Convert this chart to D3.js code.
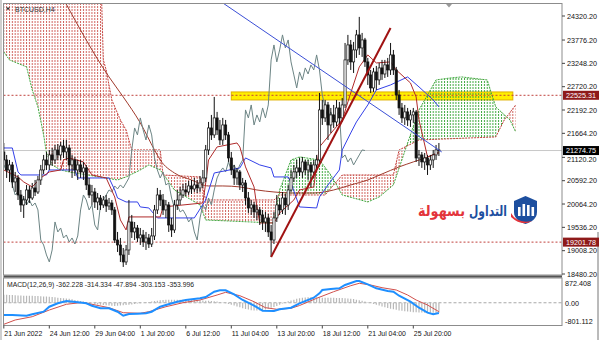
<!DOCTYPE html>
<html>
<head>
<meta charset="utf-8">
<script src="https://cdn.jsdelivr.net/npm/d3@7"></script>
<style>
  body { margin: 0; background: #fff; }
  svg { display: block; font-family: "Liberation Sans", Arial, sans-serif; }
</style>
</head>
<body>
<svg id="chart" width="600" height="340"></svg>
<script>
// ---- BTCUSD H4 candles ----
var opens = [21243,21062,20835,20949,20564,20654,20269,20043,20156,20382,20201,20428,20337,20609,20835,21062,20949,21175,21062,21288,
  21175,21378,21243,21333,20949,21062,20835,20949,20790,20881,20496,20269,20337,20111,20201,20043,20156,20020,20088,19930,
  19250,19137,18911,18753,19024,19658,19432,19522,19296,19364,19205,19296,19159,19341,19930,20269,20156,19930,20043,19590,
  19477,20043,20156,20269,20382,20337,20473,20405,20496,20428,20541,20654,21288,21786,21628,22013,21741,21514,21854,21628,
  21107,20835,20654,20790,20496,20541,20201,19975,20043,19885,19930,19817,19658,19749,19432,19250,19749,20043,19930,20201,
  20043,20382,20654,20790,20881,20790,21017,20835,20949,20790,20949,21062,22194,22013,22307,21854,22081,21922,22239,22013,
  22307,23326,23665,23281,23552,23892,23597,23778,23281,22986,22692,23054,22873,23145,23008,23213,23099,23439,23099,22533,
  22239,22013,22149,21967,22081,22149,21107,21175,21017,21107,20949,21062,21175,21288];
var highs = [21446,21175,21062,21017,20790,20722,20382,20246,20496,20473,20541,20609,20699,20949,21175,21243,21288,21333,21401,21423,
  21469,21514,21514,21401,21175,21130,21062,21062,21017,20949,20654,20496,20428,20314,20269,20246,20269,20201,20156,19998,
  19432,19296,19069,19137,20156,19817,19658,19590,19522,19477,19432,19386,19522,20043,20428,20382,20291,20156,20111,19749,
  20156,20382,20451,20518,20541,20586,20609,20654,20609,20699,20835,21401,21922,22081,22488,22149,21967,22013,21967,21696,
  21243,20949,20881,20835,20654,20609,20337,20156,20111,20043,19998,19930,19885,19839,19590,19885,20269,20201,20337,20291,
  20496,20835,20949,21062,21107,21130,21062,21062,21017,21062,21175,22578,22420,22420,22375,22239,22307,22420,22375,22465,
  23710,23892,23778,23733,24005,24300,23937,23824,23371,23099,23145,23190,23258,23326,23326,23371,23710,23552,23168,22646,
  22352,22307,22239,22194,22239,22194,21288,21243,21220,21175,21175,21288,21401,21446];
var lows = [20926,20654,20564,20428,20337,20156,19885,19749,20043,20088,20156,20246,20291,20496,20744,20835,20835,20926,20971,21062,
  21062,21107,21062,20790,20654,20699,20609,20654,20609,20382,20201,20043,19975,19930,19930,19975,19885,19930,19817,19182,
  18979,18753,18640,18685,18911,19296,19250,19205,19137,19092,19024,19069,19092,19250,19839,20020,19817,19749,19432,19319,
  19409,19930,20043,20201,20246,20269,20291,20337,20314,20337,20428,20564,21175,21514,21560,21628,21401,21401,21514,21017,
  20722,20496,20496,20382,20337,20043,19862,19817,19749,19703,19590,19477,19432,19319,18866,19159,19658,19817,19839,19817,
  19930,20337,20564,20654,20699,20654,20722,20609,20451,20654,20790,20994,21854,21922,21514,21673,21786,21831,21876,21922,
  22239,23213,23099,23031,23371,23439,23394,23168,22760,22578,22601,22646,22760,22873,22918,22941,22986,22986,22420,22081,
  21899,21854,21831,21809,21899,21017,20926,20881,20835,20722,20835,20881,21062,21152];
var closes = [21062,20835,20949,20564,20654,20269,20043,20156,20382,20201,20428,20337,20609,20835,21062,20949,21175,21062,21288,21175,
  21378,21243,21333,20949,21062,20835,20949,20790,20881,20496,20269,20337,20111,20201,20043,20156,20020,20088,19930,19250,
  19137,18911,18753,19024,19658,19432,19522,19296,19364,19205,19296,19159,19341,19930,20269,20156,19930,20043,19590,19477,
  20043,20156,20269,20382,20337,20473,20405,20496,20428,20541,20654,21288,21786,21628,22013,21741,21514,21854,21628,21107,
  20835,20654,20790,20496,20541,20201,19975,20043,19885,19930,19817,19658,19749,19432,19250,19749,20043,19930,20201,20043,
  20382,20654,20790,20881,20790,21017,20835,20949,20790,20949,21062,22194,22013,22307,21854,22081,21922,22239,22013,22307,
  23326,23665,23281,23552,23892,23597,23778,23281,22986,22692,23054,22873,23145,23008,23213,23099,23439,23099,22533,22239,
  22013,22149,21967,22081,22149,21107,21175,21017,21107,20949,21062,21175,21288,21275];

// ---- Ichimoku and MA, [bar, price] ----
var tenkan = [[0,20835],[5,20677],[7,20564],[10,20451],[13,20654],[16,20790],[20,20835],[21,21062],[23,21107],[28,21017],
  [31,20722],[36,20654],[39,20224],[41,19703],[43,19477],[44,19772],[55,19772],[56,19998],[70,20088],[71,20541],[72,21062],
  [75,21356],[82,21446],[83,21356],[85,20904],[88,20451],[89,19998],[90,19635],[95,19635],[97,19862],[102,20156],[104,20382],
  [109,20451],[111,21356],[116,21741],[119,21967],[122,22578],[125,23168],[128,23439],[131,23258],[136,23281],[138,23099],
  [143,22805],[145,22488],[146,21967],[149,21130],[153,21220]];
var kijun = [[0,21333],[3,21333],[5,20790],[6,20722],[15,20722],[16,20835],[25,20835],[26,20654],[37,20654],[39,20382],
  [40,20201],[43,20111],[47,20111],[48,19998],[51,19975],[54,19749],[67,19749],[71,20156],[74,20767],[83,20881],[85,21107],
  [90,20949],[94,20881],[95,20677],[100,20677],[101,20541],[104,19998],[110,19975],[111,20224],[114,20496],[118,20835],
  [119,21288],[122,21673],[124,21922],[128,22307],[131,22646],[136,22760],[142,22941],[146,22715],[151,22420],[153,22262]];
var spanA = [[0,23507],[2,23326],[8,23168],[10,22646],[12,22262],[14,21628],[15,21220],[17,20949],[20,20835],[23,20790],
  [40,20609],[43,20677],[48,20835],[51,20949],[55,20835],[60,20382],[69,20043],[71,19703],[95,19635],[97,20382],[101,21062],
  [104,21130],[111,21062],[115,20722],[119,20269],[128,20111],[132,20224],[137,20496],[142,21446],[146,22194],[152,22873],
  [157,22918],[161,22941],[170,22873],[173,22262],[178,21967],[180,21696]];
var spanB = [[0,25590],[34,25590],[35,23326],[36,23099],[38,22420],[41,21967],[43,21741],[45,21288],[55,21288],[56,20722],
  [69,20677],[71,20156],[95,20156],[97,20269],[113,20269],[119,20722],[137,20722],[139,21288],[146,21514],[173,21583],
  [176,21967],[180,22307]];
var maLine = [[20,24820],[37,22941],[42,22488],[48,21899],[53,21288],[55,21062],[60,20767],[66,20609],[72,20473],[77,20473],
  [83,20451],[89,20382],[95,20337],[101,20314],[109,20314],[116,20382],[122,20496],[128,20609],[133,20744],[139,20904],
  [144,21017],[150,21152],[153,21243]];

// ---- drawn objects ----
var levels = [22525.31, 19201.78];
var bid = 21274.75;
var zoneBars = [80, 179];
var zonePrices = [22601, 22420];
var redTrend = [[94,18866],[136,24050]];
var blueTrend = [[77,24616],[154,21243]];

// ---- MACD sub window, [bar, value] ----
var macdMain = [[0,-431],[3,-431],[8,-456],[10,-407],[14,-315],[16,-139],[19,-19],[22,62],[26,16],[29,-19],[31,-104],
  [34,-195],[37,-195],[40,-315],[42,-456],[44,-396],[47,-385],[50,-371],[52,-315],[55,-139],[57,-79],[61,37],[64,97],
  [69,157],[71,203],[74,390],[76,439],[78,439],[81,298],[84,97],[88,-104],[91,-280],[95,-290],[97,-230],[101,-174],
  [104,-19],[109,178],[111,333],[112,450],[115,485],[118,509],[120,626],[124,767],[125,767],[128,650],[131,509],[135,414],
  [137,390],[139,249],[143,37],[146,-174],[149,-350],[151,-407],[153,-362]];
var macdSignal = [[0,-759],[4,-607],[10,-491],[16,-255],[22,-54],[28,16],[31,-54],[37,-174],[42,-350],[48,-371],[51,-315],
  [57,-139],[63,2],[69,97],[75,273],[78,368],[83,249],[88,37],[92,-174],[96,-230],[101,-195],[104,-97],[110,157],[116,390],
  [122,601],[125,686],[129,626],[133,531],[138,450],[142,273],[145,97],[149,-79],[152,-255],[153,-314]];
var macdHist = [280,280,275,270,265,260,255,250,250,245,245,
  240,235,230,225,220,210,200,190,180,170,160,150,140,120,100,
  80,60,40,20,0,-20,-40,-60,-70,
  -80,-90,-100,-105,-110,-105,-100,-90,-80,-70,-60,-45,-30,-15,0,15,
  30,45,60,75,90,100,105,110,110,110,110,110,110,105,100,100,95,90,85,80,
  75,70,65,55,45,30,10,-15,-40,-70,-100,-130,
  -160,-190,-220,-240,-260,-270,-275,-270,-260,-240,-210,-180,-150,-110,-70,
  -30,10,50,80,110,140,160,175,185,190,195,195,190,185,180,
  180,180,175,175,170,170,165,160,150,140,130,110,90,70,45,
  20,-10,-40,-70,-100,-130,-160,-185,-210,-230,-250,-270,-285,-300,-310,-320,-330,-335,-340,-345,-350,-352,-354,-354,-354,-354];
var macdTitle = "MACD(12,26,9) -362.228 -314.334 -47.894 -303.153 -353.996";

// ---- axes ----
var priceTicks = [24320.20,23776.20,23248.20,22720.20,22192.20,21664.20,21120.20,20592.20,20064.20,19536.20,19008.20,18480.20];
var macdTicks = [872.408, 0, -801.112];
var dateBars = [0,16,32,48,64,80,96,112,128,144];
var dateLabels = ["21 Jun 2022","24 Jun 12:00","29 Jun 04:00","1 Jul 20:00","6 Jul 12:00","11 Jul 04:00",
  "13 Jul 20:00","18 Jul 12:00","21 Jul 04:00","25 Jul 20:00"];

var svg = d3.select("#chart");
var plotL = 3.5, plotR = 562, plotT = 3.5, mainB = 275, subT = 278, subB = 325.5;

var x = d3.scaleLinear().domain([0, 144]).range([3.8, 413.3]);
var y = d3.scaleLinear().domain([18480.2, 24320.2]).range([274, 16]);
var ym = d3.scaleLinear().domain([-801.112, 872.408]).range([325.5, 278]);

var defs = svg.append("defs");
defs.append("clipPath").attr("id", "clipMain").append("rect")
    .attr("x", plotL).attr("y", plotT).attr("width", plotR - plotL).attr("height", mainB - plotT);
defs.append("clipPath").attr("id", "clipSub").append("rect")
    .attr("x", plotL).attr("y", subT).attr("width", plotR - plotL).attr("height", subB - subT);

function hatch(id, color) {
  var p = defs.append("pattern").attr("id", id).attr("patternUnits", "userSpaceOnUse")
      .attr("x", x(0) - 0.5).attr("y", 0).attr("width", x(1) - x(0)).attr("height", 3);
  p.append("rect").attr("width", 1).attr("height", 2).attr("fill", color);
}
hatch("hatchRed", "#d0625c");
hatch("hatchGreen", "#3fa83f");

var line = d3.line().x(function(d) { return x(d[0]); }).y(function(d) { return y(d[1]); });
var smooth = d3.line().curve(d3.curveMonotoneX).x(function(d) { return x(d[0]); }).y(function(d) { return y(d[1]); });

// clip regions above / below span A
var aPts = spanA.map(function(d) { return [x(d[0]), y(d[1])]; });
var aFirst = aPts[0][0], aLast = aPts[aPts.length - 1][0];
defs.append("clipPath").attr("id", "aboveA").append("path")
    .attr("d", "M" + aPts.join("L") + "L" + aLast + ",-1000L" + aFirst + ",-1000Z");
defs.append("clipPath").attr("id", "belowA").append("path")
    .attr("d", "M" + aPts.join("L") + "L" + aLast + ",1000L" + aFirst + ",1000Z");

var main = svg.append("g").attr("clip-path", "url(#clipMain)");

// yellow zone
main.append("rect")
    .attr("x", x(zoneBars[0])).attr("y", y(zonePrices[0]))
    .attr("width", x(zoneBars[1]) - x(zoneBars[0])).attr("height", y(zonePrices[1]) - y(zonePrices[0]))
    .attr("fill", "#ffee00").attr("stroke", "#e0b000").attr("stroke-width", 1);

// cloud
var bandPath = line(spanA) + "L" + spanB.slice().reverse().map(function(d) { return x(d[0]) + "," + y(d[1]); }).join("L") + "Z";
main.append("g").attr("clip-path", "url(#aboveA)").append("path")
    .attr("d", bandPath).attr("fill", "url(#hatchRed)");
main.append("g").attr("clip-path", "url(#belowA)").append("path")
    .attr("d", bandPath).attr("fill", "url(#hatchGreen)");
main.append("path").attr("d", line(spanA)).attr("fill", "none")
    .attr("stroke", "#3fa83f").attr("stroke-dasharray", "2,1");
main.append("path").attr("d", line(spanB)).attr("fill", "none")
    .attr("stroke", "#c4423e").attr("stroke-dasharray", "2,1");

// horizontal levels
main.selectAll(".lvl").data(levels).enter().append("line")
    .attr("x1", plotL).attr("x2", plotR).attr("y1", function(d) { return y(d); }).attr("y2", function(d) { return y(d); })
    .attr("stroke", "#c0403c").attr("stroke-dasharray", "2,2");
main.append("line").attr("x1", plotL).attr("x2", plotR).attr("y1", y(bid)).attr("y2", y(bid))
    .attr("stroke", "#c8c8c8");

// indicator lines
main.append("path").attr("d", smooth(maLine)).attr("fill", "none")
    .attr("stroke", "#a03a2c").attr("stroke-width", 1);
var chikou = closes.map(function(c, i) { return [i - 26, c]; });
main.append("path").attr("d", line(chikou)).attr("fill", "none").attr("stroke", "#6c8484").attr("stroke-width", 1);
main.append("path").attr("d", line(kijun)).attr("fill", "none").attr("stroke", "#3340e8").attr("stroke-width", 1);
main.append("path").attr("d", line(tenkan)).attr("fill", "none").attr("stroke", "#b02a2a").attr("stroke-width", 1);

// candles
var candles = main.append("g");
closes.forEach(function(c, i) {
  var o = opens[i], cx = x(i);
  candles.append("line").attr("x1", cx).attr("x2", cx).attr("y1", y(highs[i])).attr("y2", y(lows[i]))
      .attr("stroke", "#111").attr("stroke-width", 1);
  var bTop = y(Math.max(o, c)), bBot = y(Math.min(o, c));
  candles.append("rect").attr("x", cx - 1.1).attr("width", 2.2)
      .attr("y", bTop).attr("height", Math.max(bBot - bTop, 0.8))
      .attr("fill", c >= o ? "#fff" : "#111").attr("stroke", "#111").attr("stroke-width", 0.7);
});

// trend lines
main.append("path").attr("d", line(blueTrend)).attr("stroke", "#3b4fd6").attr("stroke-width", 1).attr("fill", "none");
main.append("path").attr("d", line(redTrend)).attr("stroke", "#a01212").attr("stroke-width", 2).attr("fill", "none");

// ---- MACD ----
var sub = svg.append("g").attr("clip-path", "url(#clipSub)");
sub.append("line").attr("x1", plotL).attr("x2", plotR).attr("y1", ym(0)).attr("y2", ym(0))
    .attr("stroke", "#a8a8a8").attr("stroke-dasharray", "3,2");
sub.selectAll(".h").data(macdHist).enter().append("line")
    .attr("x1", function(d, i) { return x(i); }).attr("x2", function(d, i) { return x(i); })
    .attr("y1", ym(0)).attr("y2", function(d) { return ym(d); })
    .attr("stroke", "#b8b8b8").attr("stroke-width", 1.2);
var mline = d3.line().x(function(d) { return x(d[0]); }).y(function(d) { return ym(d[1]); });
sub.append("path").attr("d", mline(macdSignal)).attr("fill", "none").attr("stroke", "#d0504c").attr("stroke-width", 1);
sub.append("path").attr("d", mline(macdMain)).attr("fill", "none").attr("stroke", "#1e8fff").attr("stroke-width", 2);
svg.append("text").attr("x", 7).attr("y", 286.5).attr("font-size", 6.8).attr("fill", "#222").text(macdTitle);

// ---- frames ----
svg.append("rect").attr("x", 0).attr("y", 0).attr("width", 2).attr("height", 340).attr("fill", "#cfcfcf");
var frame = svg.append("g").attr("stroke", "#8c8c8c").attr("fill", "none");
frame.append("rect").attr("x", plotL).attr("y", plotT).attr("width", plotR - plotL).attr("height", mainB - plotT);
frame.append("rect").attr("x", plotL).attr("y", subT).attr("width", plotR - plotL).attr("height", subB - subT);
svg.append("line").attr("x1", plotL).attr("x2", plotR).attr("y1", 276.5).attr("y2", 276.5)
    .attr("stroke", "#555").attr("stroke-width", 2);
svg.append("line").attr("x1", 598).attr("x2", 598).attr("y1", 232).attr("y2", 340).attr("stroke", "#777");

// price axis
var pa = svg.append("g").attr("font-size", 7.2).attr("fill", "#111");
priceTicks.forEach(function(p) {
  // keep the tick label clear of the bid box just above it
  var ty = y(p), near = ty - y(bid);
  if (near > 0 && near < 9) ty = y(bid) + 9;
  pa.append("line").attr("x1", plotR).attr("x2", plotR + 3).attr("y1", y(p)).attr("y2", y(p)).attr("stroke", "#444");
  pa.append("text").attr("x", plotR + 5).attr("y", ty).attr("dy", "0.35em").text(p.toFixed(2));
});
function priceBox(p, bg) {
  pa.append("rect").attr("x", plotR + 1).attr("y", y(p) - 4.5).attr("width", 36).attr("height", 9).attr("fill", bg);
  pa.append("text").attr("x", plotR + 4).attr("y", y(p)).attr("dy", "0.35em").attr("fill", "#fff").text(p.toFixed(2));
}
levels.forEach(function(p) { priceBox(p, "#8e1a1a"); });
priceBox(bid, "#000");

// macd axis
var mAxis = svg.append("g").attr("font-size", 7.2).attr("fill", "#111");
var macdLabelY = [283.3, 303, 321.7];
macdTicks.forEach(function(v, i) {
  mAxis.append("text").attr("x", plotR + 3).attr("y", macdLabelY[i]).attr("dy", "0.35em")
      .text(v === 0 ? "0.00" : v.toFixed(3));
});

// time axis
var ta = svg.append("g").attr("font-size", 6.9).attr("fill", "#111");
dateBars.forEach(function(b, i) {
  var tx = x(b);
  ta.append("line").attr("x1", tx).attr("x2", tx).attr("y1", subB).attr("y2", subB + 3).attr("stroke", "#444");
  ta.append("text").attr("x", tx + 0.5).attr("y", 335.5).text(dateLabels[i]);
});

// symbol label and shift marker
svg.append("path").attr("d", "M6,7.5L10,7.5L8,10.5Z").attr("fill", "#333");
svg.append("text").attr("x", 15).attr("y", 11.5).attr("font-size", 7).attr("fill", "#333").text("BTCUSD,H4");
svg.append("path").attr("d", "M446,4L452,4L449,7.5Z").attr("fill", "#9a9a9a");

// logo
var logo = svg.append("g").attr("font-family", "DejaVu Sans").attr("font-weight", "bold").attr("font-size", 15);
logo.append("text").attr("x", 507).attr("y", 216).attr("text-anchor", "end")
    .attr("textLength", 38).attr("lengthAdjust", "spacingAndGlyphs")
    .attr("fill", "#1d4f9f").text("التداول");
logo.append("text").attr("x", 465).attr("y", 216).attr("text-anchor", "end")
    .attr("textLength", 47).attr("lengthAdjust", "spacingAndGlyphs")
    .attr("fill", "#e3343b").text("بسهولة");
logo.append("path").attr("d", "M514,201L525.5,196L537,201L537,212C537,219 531,222 525.5,224C520,222 514,219 514,212Z")
    .attr("fill", "#1d4f9f");
[[518, 207, 9], [522.5, 204, 12], [527, 205, 11], [531.5, 207, 9]].forEach(function(b) {
  logo.append("rect").attr("x", b[0]).attr("y", b[1]).attr("width", 2.6).attr("height", b[2]).attr("fill", "#fff");
});
logo.append("path").attr("d", "M511,213Q517,224 532,221Q522,227 511,217Z").attr("fill", "#e3343b");
</script>
</body>
</html>
